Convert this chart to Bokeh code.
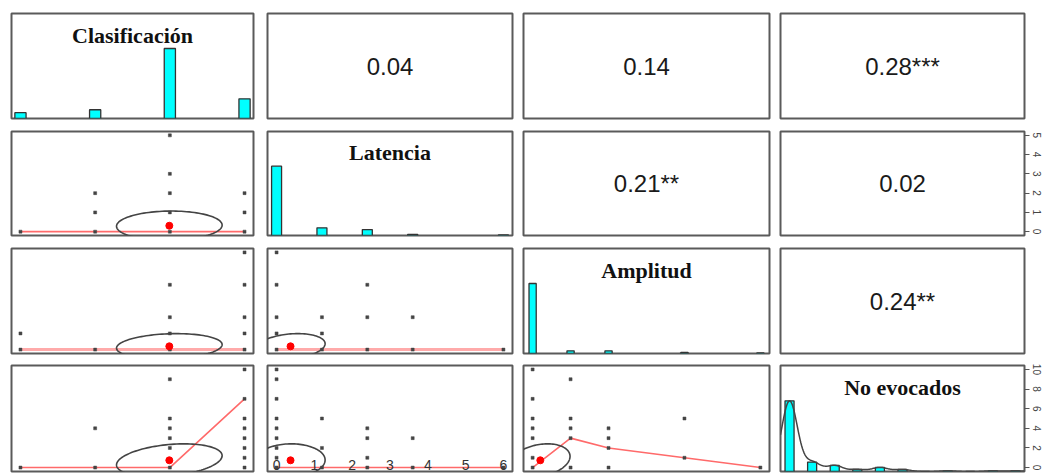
import numpy as np
from bokeh.plotting import figure
from bokeh.layouts import gridplot
from bokeh.models import Range1d, LinearAxis, FixedTicker
from bokeh.core.properties import value
from bokeh.embed import file_html
from bokeh.resources import INLINE

# ---------------- data ----------------
var_names = ["Clasificación", "Latencia", "Amplitud", "No evocados"]

clas_vals = [1, 2, 3, 4]
clas_counts = [8, 12, 96, 27]
lat_vals = [0, 1, 2, 3, 5]
lat_counts = [117, 13, 10, 2, 1]
amp_vals = [0, 1, 2, 4, 6]
amp_counts = [130, 5, 5, 2, 1]
noe_vals = [0, 1, 2, 3, 4, 5, 6, 7, 8, 9, 10]
noe_counts = [105, 14, 9, 3, 6, 3, 0, 1, 0, 1, 1]

# correlations (upper triangle): (row, col) -> r, stars
cor_pairs = [(0, 1), (0, 2), (0, 3), (1, 2), (1, 3), (2, 3)]
cor_r = [0.04, 0.14, 0.28, 0.21, 0.02, 0.24]
cor_stars = ["", "", "***", "**", "", "**"]

# scatter points (lower triangle): x = column variable, y = row variable
clas_lat_x = [1, 2, 2, 2, 3, 3, 3, 3, 3, 4, 4, 4]
clas_lat_y = [0, 0, 1, 2, 0, 1, 2, 3, 5, 0, 1, 2]
clas_amp_x = [1, 1, 2, 3, 3, 3, 3, 4, 4, 4, 4, 4]
clas_amp_y = [0, 1, 0, 0, 1, 2, 4, 0, 1, 2, 4, 6]
lat_amp_x = [0, 0, 0, 0, 0, 1, 1, 1, 2, 2, 2, 3, 3, 5]
lat_amp_y = [0, 1, 2, 4, 6, 0, 1, 2, 0, 2, 4, 0, 2, 0]
clas_noe_x = [1, 2, 2, 3, 3, 3, 3, 3, 3, 4, 4, 4, 4, 4, 4, 4, 4]
clas_noe_y = [0, 0, 4, 0, 2, 3, 4, 5, 9, 0, 1, 2, 3, 4, 5, 7, 10]
lat_noe_x = [0, 0, 0, 0, 0, 0, 0, 0, 0, 1, 1, 1, 2, 2, 2, 2, 3, 3, 5]
lat_noe_y = [0, 1, 2, 3, 4, 5, 7, 9, 10, 0, 2, 5, 0, 1, 3, 4, 0, 3, 0]
amp_noe_x = [0, 0, 0, 0, 0, 0, 0, 1, 1, 1, 1, 1, 2, 2, 2, 2, 4, 4, 6]
amp_noe_y = [0, 1, 3, 4, 5, 7, 10, 0, 3, 4, 5, 9, 0, 2, 3, 4, 1, 5, 0]

# loess smooth values at the distinct x values
clas_lat_smooth = [0, 0, 0, 0]
clas_amp_smooth = [0, 0, 0, 0]
lat_amp_smooth = [0, 0, 0, 0, 0]
clas_noe_smooth = [0, 0, 0, 7]
lat_noe_smooth = [0, 0, 0, 0, 0]
amp_noe_smooth = [0, 3, 2, 1, 0]

bottom_tick_labels = ["0", "1", "2", "3", "4", "5", "6"]
right_ticks_lat = [0, 1, 2, 3, 4, 5]
right_ticks_noe = [0, 2, 4, 6, 8, 10]

# ---------------- derived ----------------
vals = [clas_vals, lat_vals, amp_vals, noe_vals]
counts = [clas_counts, lat_counts, amp_counts, noe_counts]
scatter = {
    (1, 0): (clas_lat_x, clas_lat_y, clas_lat_smooth),
    (2, 0): (clas_amp_x, clas_amp_y, clas_amp_smooth),
    (2, 1): (lat_amp_x, lat_amp_y, lat_amp_smooth),
    (3, 0): (clas_noe_x, clas_noe_y, clas_noe_smooth),
    (3, 1): (lat_noe_x, lat_noe_y, lat_noe_smooth),
    (3, 2): (amp_noe_x, amp_noe_y, amp_noe_smooth),
}
cor = {pr: (r, s) for pr, r, s in zip(cor_pairs, cor_r, cor_stars)}


def vrange(k):
    lo, hi = min(vals[k]), max(vals[k])
    pad = 0.04 * (hi - lo)
    return lo - pad, hi + pad


def stats(k):
    v = np.array(vals[k], float)
    c = np.array(counts[k], float)
    m = (v * c).sum() / c.sum()
    sd = np.sqrt(((v - m) ** 2 * c).sum() / (c.sum() - 1))
    return m, sd


def ellipse(mx, my, sx, sy, r, seg=120):
    ang = np.linspace(0, 2 * np.pi, seg + 1)
    circ = np.column_stack([np.cos(ang), np.sin(ang)])
    t = np.sign(r) / np.sqrt(2) if r != 0 else 1 / np.sqrt(2)
    shape = np.diag([np.sqrt(1 + r), np.sqrt(1 - r)]) @ np.array([[t, t], [-t, t]])
    e = circ @ shape
    return e[:, 0] * sx + mx, e[:, 1] * sy + my


# ---------------- layout geometry ----------------
col_left = [11, 7, 6, 6]
col_frame = [242, 245, 246, 244]
col_right = [7, 5, 5, 22]
row_top = [13, 7, 7, 6]
row_frame = [105, 104, 105, 106]
row_bottom = [6, 6, 6, 2]
bar_width = [0.15, 0.22, 0.19, 0.4]

CYAN = "#00FFFF"
BORDER = "#5a5a5a"


def base_fig(i, j, xr, yr):
    p = figure(frame_width=col_frame[j], frame_height=row_frame[i],
               x_range=Range1d(*xr), y_range=Range1d(*yr),
               x_axis_location=None, y_axis_location=None,
               tools="", toolbar_location=None, output_backend="svg",
               min_border_left=col_left[j], min_border_right=col_right[j],
               min_border_top=row_top[i], min_border_bottom=row_bottom[i])
    p.xgrid.visible = False
    p.ygrid.visible = False
    p.outline_line_color = BORDER
    p.outline_line_width = 2
    p.background_fill_color = "white"
    p.border_fill_color = "white"
    return p


def right_axis(p, name, rng, ticks):
    p.extra_y_ranges = {name: Range1d(*rng)}
    ax = LinearAxis(y_range_name=name, ticker=FixedTicker(ticks=ticks, minor_ticks=[]))
    ax.axis_line_color = None
    ax.major_tick_line_color = "#555555"
    ax.major_tick_out = 5
    ax.major_tick_in = 0
    ax.major_label_text_font = "Liberation Sans"
    ax.major_label_text_font_size = "10px"
    ax.major_label_text_color = "#444444"
    ax.major_label_standoff = 3
    ax.major_label_orientation = "vertical"
    p.add_layout(ax, "right")


rows = []
for i in range(4):
    row = []
    for j in range(4):
        if i == j:
            xr = vrange(j)
            p = base_fig(i, j, xr, (0, 1.5))
            c = np.array(counts[j], float)
            p.vbar(x=vals[j], top=c / c.max(), width=bar_width[j], bottom=0,
                   fill_color=CYAN, line_color="#333333", line_width=1.3)
            if j == 3:
                # kernel density of the observations, scaled to peak 1
                obs = np.repeat(np.array(vals[j], float), counts[j])
                gx = np.linspace(xr[0], xr[1], 300)
                bw = 0.35
                d = np.exp(-0.5 * ((gx[:, None] - obs[None, :]) / bw) ** 2).sum(axis=1)
                p.line(gx, d / d.max(), line_color="#444444", line_width=1.5)
            p.text(x=[(xr[0] + xr[1]) / 2], y=[1.19], text=[var_names[j]],
                   text_font=value("Liberation Serif"), text_font_style="bold",
                   text_font_size="22px", text_color="#111111",
                   text_align="center", text_baseline="middle")
            if j == 3:
                right_axis(p, "noe", vrange(3), right_ticks_noe)
        elif i < j:
            p = base_fig(i, j, (0, 1), (0, 1))
            r, s = cor[(i, j)]
            p.text(x=[0.5], y=[0.5], text=[f"{r:.2f}{s}"],
                   text_font=value("Liberation Sans"), text_font_size="24px",
                   text_color="#1a1a1a", text_align="center", text_baseline="middle")
            if (i, j) == (1, 3):
                right_axis(p, "lat", vrange(1), right_ticks_lat)
        else:
            xr, yr = vrange(j), vrange(i)
            p = base_fig(i, j, xr, yr)
            sx_, sy_, sm = scatter[(i, j)]
            mx, sdx = stats(j)
            my, sdy = stats(i)
            r = cor[(j, i)][0]
            ex, ey = ellipse(mx, my, sdx, sdy, r)
            lc, lw = ("#ffaaaa", 3) if i == 2 else ("#ff6a6a", 1.6)
            p.line(vals[j], sm, line_color=lc, line_width=lw)
            p.scatter(sx_, sy_, marker="square", size=3, fill_color="#444444",
                      line_color="#444444", line_width=0.5)
            p.line(ex, ey, line_color="#444444", line_width=1.6)
            p.scatter([mx], [my], marker="circle", size=7, fill_color="red", line_color="red")
            if (i, j) == (3, 1):
                lo, hi = min(vals[1]), max(vals[1])
                tx = np.linspace(lo, hi, len(bottom_tick_labels))
                p.text(x=tx, y=[0.3] * len(tx), text=bottom_tick_labels,
                       text_font=value("Liberation Sans"), text_font_size="14px",
                       text_color="#333333", text_align="center", text_baseline="middle")
        row.append(p)
    rows.append(row)

grid = gridplot(rows, toolbar_location=None)
open("out.html", "w").write(file_html(grid, INLINE))
